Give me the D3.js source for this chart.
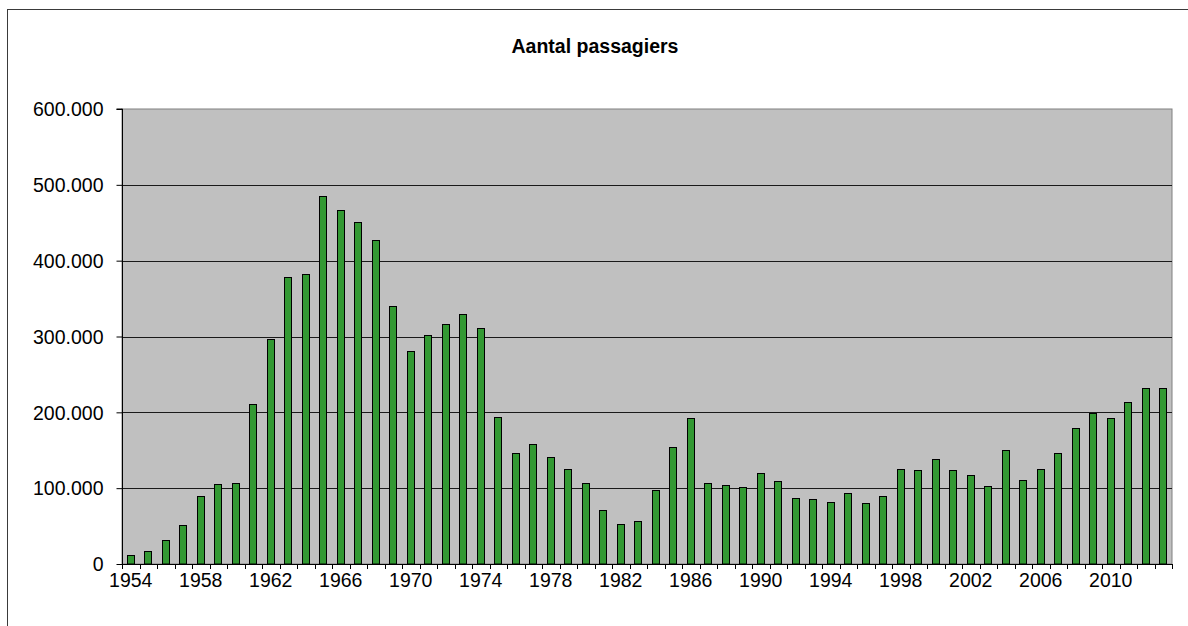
<!DOCTYPE html>
<html>
<head>
<meta charset="utf-8">
<script src="https://cdn.jsdelivr.net/npm/d3@7"></script>
<style>
  html, body { margin: 0; padding: 0; background: #fff; }
  svg { display: block; }
  text { font-family: "Liberation Sans", Arial, sans-serif; fill: #000; }
</style>
</head>
<body>
<svg id="chart" width="1188" height="626"></svg>
<script>
const title = "Aantal passagiers";
const years = d3.range(1954, 2014).map(String);
const passengers = [
  12000, 17600, 31200, 51900, 89300, 106000, 106900, 211000, 297300, 378200,
  383000, 485900, 467000, 451100, 427800, 340800, 281000, 302100, 316200, 330200,
  311300, 193900, 146900, 158700, 141600, 125800, 107300, 71200, 52800, 56300,
  97600, 154300, 193000, 106400, 104200, 101600, 120500, 109500, 87100, 85300,
  81800, 94100, 80000, 90100, 125800, 124000, 138900, 123600, 117400, 102900,
  150400, 110800, 125800, 146000, 179800, 199600, 192100, 213300, 232600, 232600
];
const yTicks = [0, 100000, 200000, 300000, 400000, 500000, 600000];
const xLabelYears = years.filter((d, i) => i % 4 === 0 && +d <= 2010);

const svg = d3.select("#chart");
const plot = { left: 122, right: 1172, top: 109, bottom: 564 };

// outer frame (top & left visible)
svg.append("rect")
  .attr("x", 7.5).attr("y", 9.5)
  .attr("width", 1300).attr("height", 800)
  .attr("fill", "none").attr("stroke", "#3a3a3a").attr("stroke-width", 1);

const x = d3.scaleBand().domain(years)
  .range([plot.left, plot.right]).paddingInner(0.57).paddingOuter(0.285);
const y = d3.scaleLinear().domain([0, 600000]).range([plot.bottom, plot.top]);

// plot background
svg.append("rect")
  .attr("x", plot.left).attr("y", plot.top)
  .attr("width", plot.right - plot.left).attr("height", plot.bottom - plot.top)
  .attr("fill", "#c0c0c0").attr("stroke", "#808080").attr("stroke-width", 1);

// gridlines
svg.append("g").selectAll("line").data(yTicks.slice(1, -1)).join("line")
  .attr("x1", plot.left).attr("x2", plot.right)
  .attr("y1", d => Math.round(y(d)) + 0.5).attr("y2", d => Math.round(y(d)) + 0.5)
  .attr("stroke", "#1a1a1a").attr("stroke-width", 1);

// bars
svg.append("g").selectAll("rect").data(passengers).join("rect")
  .attr("x", (d, i) => Math.round(x(years[i])) + 0.5)
  .attr("y", d => Math.round(y(d)) + 0.5)
  .attr("width", Math.round(x.bandwidth()) - 1)
  .attr("height", d => plot.bottom - Math.round(y(d)) - 0.5)
  .attr("fill", "#339933").attr("stroke", "#000").attr("stroke-width", 1);

// y axis
const yAxis = d3.axisLeft(y).tickValues(yTicks).tickSize(6).tickPadding(13)
  .tickFormat(d => d === 0 ? "0" : d3.format(",")(d).replace(/,/g, "."));
const gy = svg.append("g").attr("transform", `translate(${plot.left + 0.5},0)`).call(yAxis);
gy.select(".domain").attr("stroke", "#000").attr("d", `M-6,${plot.top}H0V${plot.bottom}`);
gy.selectAll(".tick line").attr("stroke", "#000");
gy.selectAll("text").style("font-size", "19.5px").attr("dy", "0.35em");

// x axis: ticks at category boundaries
const boundaries = d3.range(0, years.length + 1).map(i => plot.left + i * (plot.right - plot.left) / years.length);
svg.append("line")
  .attr("x1", plot.left).attr("x2", plot.right)
  .attr("y1", plot.bottom + 0.5).attr("y2", plot.bottom + 0.5)
  .attr("stroke", "#000");
svg.append("g").selectAll("line").data(boundaries).join("line")
  .attr("x1", d => Math.round(d) + 0.5).attr("x2", d => Math.round(d) + 0.5)
  .attr("y1", plot.bottom).attr("y2", plot.bottom + 5)
  .attr("stroke", "#000");
svg.append("g").selectAll("text").data(xLabelYears).join("text")
  .attr("x", d => x(d) + x.bandwidth() / 2)
  .attr("y", 587)
  .attr("text-anchor", "middle")
  .style("font-size", "19.5px")
  .text(d => d);

// title
svg.append("text")
  .attr("x", 595).attr("y", 53)
  .attr("text-anchor", "middle")
  .style("font-size", "19.5px").style("font-weight", "bold")
  .text(title);
</script>
</body>
</html>
